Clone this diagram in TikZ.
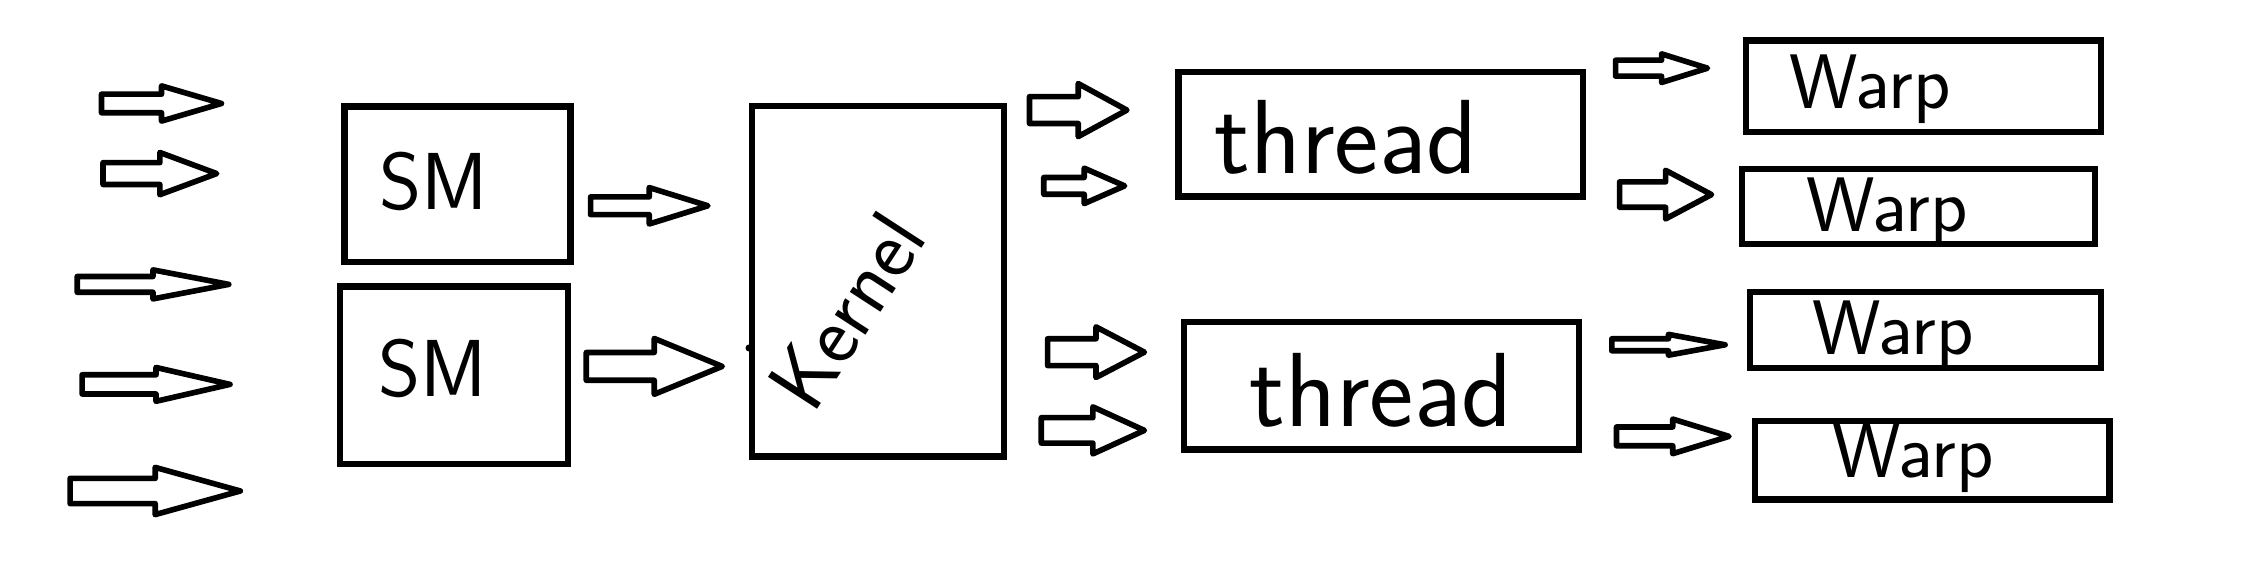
\documentclass[tikz,border=0pt]{standalone}
\usepackage{tikz}
\usetikzlibrary{positioning}

\tikzset{
  unitbox/.style={draw=black, line width=1.8pt, inner sep=0pt},
  blockline/.style={draw=black, line width=1.6pt, line join=round},
  smlabel/.style={font=\fontsize{23}{23}\selectfont\sffamily},
  kernellabel/.style={font=\fontsize{24}{24}\selectfont\sffamily, rotate=57},
  threadlabel/.style={font=\fontsize{30}{30}\selectfont\sffamily},
  warplabel/.style={font=\fontsize{22}{22}\selectfont\sffamily}
}

% hollow block arrow: tail x, mid y, length, shaft half height, head half height
\newcommand{\blockarrow}[5]{%
  \draw[blockline] (#1,{#2-#4}) -- ({#1+0.5*#3},{#2-#4}) -- ({#1+0.5*#3},{#2-#5})
    -- ({#1+#3},#2) -- ({#1+0.5*#3},{#2+#5}) -- ({#1+0.5*#3},{#2+#4})
    -- (#1,{#2+#4}) -- cycle;}

\begin{document}
\begin{tikzpicture}
 \fill[white] (0,0) rectangle (22.42,5.84);
 \useasboundingbox (0,0) rectangle (22.42,5.84);

 % incoming arrows
 \blockarrow{1.015}{4.805}{1.20}{0.093}{0.176}
 \blockarrow{1.030}{4.104}{1.137}{0.109}{0.211}
 \blockarrow{0.772}{2.996}{1.516}{0.079}{0.145}
 \blockarrow{0.821}{1.996}{1.479}{0.096}{0.169}
 \blockarrow{0.701}{0.930}{1.702}{0.126}{0.236}

 % SMs
 \node[unitbox, minimum width=2.26cm, minimum height=1.558cm] (smA) at (4.576,3.997) {};
 \node[unitbox, minimum width=2.274cm, minimum height=1.773cm] (smB) at (4.540,2.088) {};
 \node[smlabel] (smAtxt) at (4.34,4.03) {SM};
 \node[smlabel] (smBtxt) at (4.33,2.16) {SM};

 \blockarrow{5.906}{3.782}{1.173}{0.089}{0.182}
 \blockarrow{5.863}{2.176}{1.359}{0.139}{0.279}

 % kernel
 \node[unitbox, minimum width=2.517cm, minimum height=3.503cm] (kernel) at (8.780,3.025) {};
 \node[kernellabel] (kerneltxt) at (8.47,2.73) {Kernel};
 \fill (kernel.west |- 0,2.36) circle (0.035);

 \blockarrow{10.295}{4.739}{0.974}{0.134}{0.265}
 \blockarrow{10.438}{3.981}{0.808}{0.084}{0.177}
 \blockarrow{10.476}{2.318}{0.968}{0.134}{0.253}
 \blockarrow{10.413}{1.536}{1.031}{0.127}{0.235}

 % threads
 \node[unitbox, minimum width=4.047cm, minimum height=1.244cm] (threadA) at (13.807,4.497) {};
 \node[unitbox, minimum width=3.947cm, minimum height=1.273cm] (threadB) at (13.814,1.981) {};
 \node[threadlabel] (threadAtxt) at (13.46,4.47) {thread};
 \node[threadlabel] (threadBtxt) at (13.81,1.94) {thread};

 \blockarrow{16.156}{5.158}{0.919}{0.080}{0.143}
 \blockarrow{16.196}{3.894}{0.919}{0.127}{0.243}
 \blockarrow{16.118}{2.392}{1.133}{0.060}{0.104}
 \blockarrow{16.165}{1.476}{1.125}{0.094}{0.173}

 % warps
 \node[unitbox, minimum width=3.547cm, minimum height=0.915cm] (warpA) at (19.234,4.977) {};
 \node[unitbox, minimum width=3.533cm, minimum height=0.744cm] (warpB) at (19.184,3.775) {};
 \node[unitbox, minimum width=3.504cm, minimum height=0.758cm] (warpC) at (19.255,2.538) {};
 \node[unitbox, minimum width=3.547cm, minimum height=0.786cm] (warpD) at (19.320,1.237) {};
 \node[warplabel] (warpAtxt) at (18.70,4.95) {Warp};
 \node[warplabel] (warpBtxt) at (18.87,3.72) {Warp};
 \node[warplabel] (warpCtxt) at (18.93,2.49) {Warp};
 \node[warplabel] (warpDtxt) at (19.13,1.26) {Warp};
\end{tikzpicture}
\end{document}
